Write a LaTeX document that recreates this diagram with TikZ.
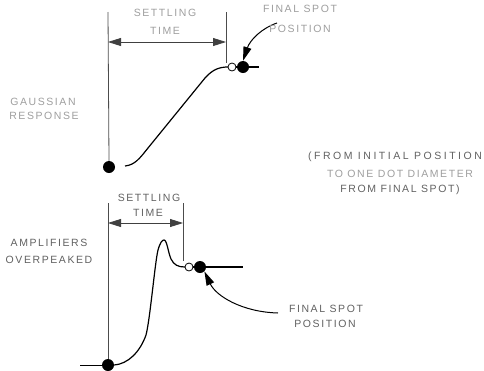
\documentclass[tikz,border=0pt]{standalone}
\usepackage{fontspec}
\newfontfamily\lblfont[LetterSpace=15]{Liberation Sans}
\newfontfamily\widefont[LetterSpace=24]{Liberation Sans}
\usetikzlibrary{arrows.meta}
\begin{document}
\begin{tikzpicture}[x=1pt,y=-1pt,
  lbl/.style={font=\lblfont\fontsize{10.5}{12}\selectfont, text=black!62, inner sep=0pt, align=center},
  faint/.style={lbl, text=black!38},
  guide/.style={line width=0.8pt, black!70},
  curve/.style={line width=1.2pt, black},
  dim/.style={line width=0.8pt, black!75, {Triangle[length=13pt,width=8pt]}-{Triangle[length=13pt,width=8pt]}},
  pointer/.style={line width=1pt, black, -{Triangle[length=14pt,width=8pt]}},
  spot/.style={circle, fill=black, minimum size=12pt, inner sep=0pt},
  ospot/.style={circle, draw=black, fill=white, line width=0.8pt, minimum size=8pt, inner sep=0pt}
]
\useasboundingbox (0,0) rectangle (484,370);

% ---------- top: Gaussian response ----------
\coordinate (tl0) at (108,12);
\coordinate (tr0) at (226,12);
\node[spot] (tstart) at (109,167) {};
\coordinate (tr1) at (226,63);
\coordinate (tend) at (259,67);
\coordinate (tcs) at (125,166);
\draw[guide] (tl0) -- (tstart.north);
\draw[guide] (tr0) -- (tr1);
\coordinate (ta) at (108,42);
\coordinate (tb) at (226,42);
\draw[dim] (ta) -- (tb);
\node[faint] (tset) at (165,13) {SETTLING};
\node[faint] (ttime) at (165,31) {TIME};

\draw[curve] (tcs) .. controls (135,165) and (140,158) .. (148,148) -- (205,78)
  .. controls (213,69) and (220,67) .. (228,67);
\draw[line width=1.2pt] (232,67) -- (tend);
\node[ospot] (topen) at (232,67) {};
\node[spot] (tfinal) at (243,67) {};

\coordinate (tps) at (277,23);
\draw[pointer] (tps) .. controls (262,28) and (250,40) .. (tfinal.north);
\node[faint] (tfs1) at (300,9) {FINAL SPOT};
\node[faint] (tfs2) at (300,29) {POSITION};

\node[faint] (gauss1) at (43,102) {GAUSSIAN};
\node[faint] (gauss2) at (44,116) {RESPONSE};

\node[lbl, font=\widefont\fontsize{10.5}{12}\selectfont] (note1) at (395,157) {(FROM INITIAL POSITION};
\node[faint] (note2) at (400,174) {TO ONE DOT DIAMETER};
\node[lbl] (note3) at (400,190) {FROM FINAL SPOT)};

% ---------- bottom: amplifiers overpeaked ----------
\coordinate (bl0) at (108,203);
\coordinate (br0) at (183,203);
\coordinate (br1) at (183,261);
\node[spot] (bstart) at (108,365) {};
\coordinate (bleft) at (80,365);
\draw[guide] (bl0) -- (bstart.north);
\draw[guide] (br0) -- (br1);
\draw[line width=1pt] (bleft) -- (bstart);
\coordinate (ba) at (108,223);
\coordinate (bb) at (183,223);
\draw[dim] (ba) -- (bb);
\node[lbl] (bset) at (149,198) {SETTLING};
\node[lbl] (btime) at (148,213) {TIME};

\draw[curve] (bstart.east) .. controls (128,364) and (140,352) .. (146,335)
  .. controls (150,320) and (155,262) .. (158,250)
  .. controls (160,243) and (162,240) .. (164,240)
  .. controls (167,240) and (168,252) .. (171,259)
  .. controls (174,265) and (178,267) .. (185,267);
\coordinate (bend) at (243,267);
\draw[line width=1.2pt] (189,267) -- (bend);
\node[ospot] (bopen) at (189,267) {};
\node[spot] (bfinal) at (200,267) {};

\coordinate (bps) at (278,313);
\draw[pointer] (bps) .. controls (242,312) and (216,296) .. (bfinal.south east);
\node[lbl] (bfs1) at (326,309) {FINAL SPOT};
\node[lbl] (bfs2) at (325,324) {POSITION};

\node[lbl] (amp1) at (49,243) {AMPLIFIERS};
\node[lbl] (amp2) at (49,260) {OVERPEAKED};
\end{tikzpicture}
\end{document}
